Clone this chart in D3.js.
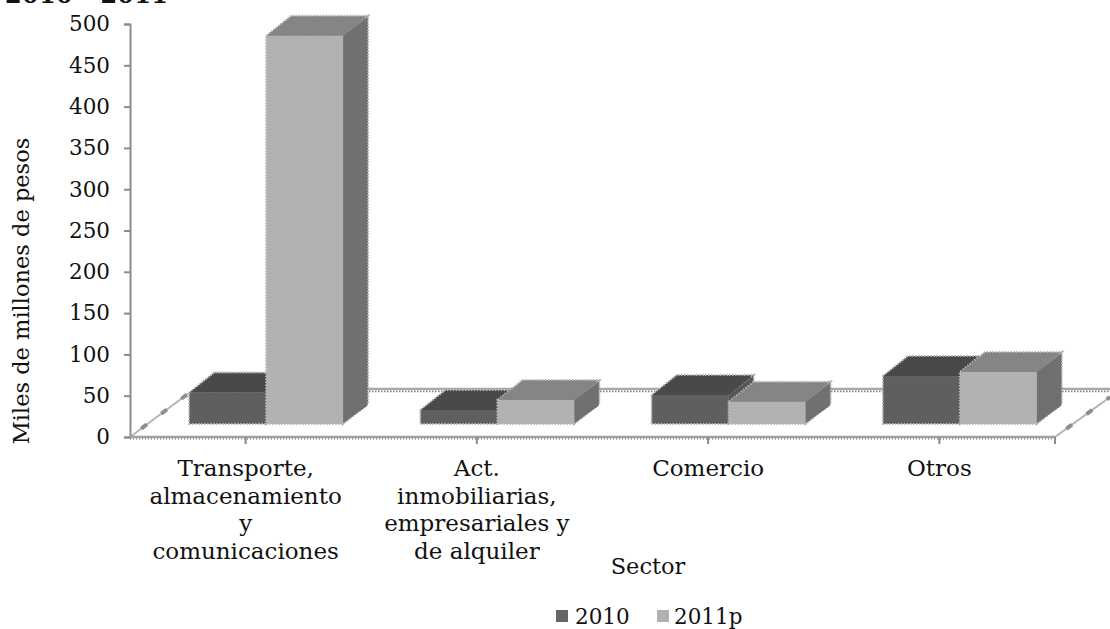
<!DOCTYPE html>
<html><head><meta charset="utf-8">
<script src="https://cdn.jsdelivr.net/npm/d3@7"></script>
<style>
html,body{margin:0;padding:0;background:#fff;overflow:hidden}
text{font-family:"DejaVu Serif",serif;fill:#111}
</style></head><body>
<svg id="c" width="1110" height="629"></svg>
<script>
const categories=[["Transporte,","almacenamiento","y","comunicaciones"],["Act.","inmobiliarias,","empresariales y","de alquiler"],["Comercio"],["Otros"]];
const categoryKeys=["Transporte","Act","Comercio","Otros"];
const seriesNames=["2010","2011p"];
const values2010=[38,17,35,58];
const values2011=[470,29,27,63];
const yTicks=[0,50,100,150,200,250,300,350,400,450,500];
const titleText="2010 - 2011";
const yTitle="Miles de millones de pesos";
const xTitle="Sector";

const svg=d3.select("#c");
const defs=svg.append("defs");
defs.append("filter").attr("id","soft").append("feGaussianBlur").attr("stdDeviation",0.45);
const x=d3.scaleBand().domain(categoryKeys).range([130,1055]);
const xSeries=d3.scaleBand().domain(seriesNames).range([0,154]);
const yAxisScale=d3.scaleLinear().domain([0,500]).range([437,24]);
const yBar=d3.scaleLinear().domain([0,500]).range([424,11]);
const depthX=25, depthY=-20, shift=20.5;
const styles={"2010":{front:"#5f5f5f",top:"#4a4a4a",side:"#555555",edge:"#b8b8b8"},
              "2011p":{front:"#b2b2b2",top:"#858585",side:"#707070",edge:"#b8b8b8"}};

svg.append("text").attr("x",5).attr("y",3).attr("font-size",24).attr("font-weight","bold").style("font-family","'DejaVu Serif',serif").attr("textLength",163).text(titleText);

// floor
const floor=svg.append("g").attr("fill","none").attr("filter","url(#soft)");
[[[345,389],[1110,389]]].forEach(s=>{
  floor.append("path").attr("d",d3.line()(s)).attr("stroke","#a8a8a8").attr("stroke-width",2.5);
  floor.append("path").attr("d",d3.line()(s.map(p=>[p[0],p[1]+2.5]))).attr("stroke","#808080").attr("stroke-width",1.5).attr("stroke-dasharray","1.5 1.5");
});
[[[130,437],[189,393]],[[1055,437],[1110,397]]].forEach(s=>{
  floor.append("path").attr("d",d3.line()(s)).attr("stroke","#b4b4b4").attr("stroke-width",2);
  floor.append("path").attr("d",d3.line()(s)).attr("stroke","#8e8e8e").attr("stroke-width",4).attr("stroke-dasharray","7 18").attr("stroke-dashoffset",-14);
});

// bars
const poly=(g,pts,fill,edge)=>{
  g.append("polygon").attr("points",pts.map(p=>p.join(",")).join(" ")).attr("fill",fill);
  if(edge) g.append("polygon").attr("points",pts.map(p=>p.join(",")).join(" ")).attr("fill","none").attr("stroke",edge).attr("stroke-width",2).attr("stroke-dasharray","1.5 1.5");
};
const barsG=svg.append("g").attr("filter","url(#soft)");
categoryKeys.forEach((k,i)=>{
  [values2010[i],values2011[i]].forEach((v,j)=>{
    const name=seriesNames[j], st=styles[name];
    const x0=x(k)+x.bandwidth()/2+shift-xSeries.range()[1]/2+xSeries(name);
    const x1=x0+xSeries.bandwidth();
    const y0=yBar(0), y1=yBar(v);
    const g=barsG.append("g");
    poly(g,[[x1,y0],[x1+depthX,y0+depthY],[x1+depthX,y1+depthY],[x1,y1]],st.side,st.edge);
    poly(g,[[x0,y1],[x1,y1],[x1+depthX,y1+depthY],[x0+depthX,y1+depthY]],st.top,st.edge);
    poly(g,[[x0,y0],[x1,y0],[x1,y1],[x0,y1]],st.front,st.edge);
    g.append("rect").attr("x",x0+1).attr("y",y1).attr("width",x1-x0-1).attr("height",y0-y1-1).attr("fill",st.front);
    g.append("polygon").attr("points",[[x0+1,y1],[x1,y1],[x1+depthX-2,y1+depthY+2],[x0+depthX,y1+depthY+2]].map(p=>p.join(",")).join(" ")).attr("fill",st.top);
    g.append("polygon").attr("points",[[x1,y0-1],[x1+depthX-1,y0+depthY+2],[x1+depthX-1,y1+depthY+2],[x1,y1]].map(p=>p.join(",")).join(" ")).attr("fill",st.side);
  });
});

// y axis
const yAxis=d3.axisLeft(yAxisScale).tickValues(yTicks).tickSize(6).tickPadding(14);
const gy=svg.append("g").attr("transform","translate(130,0)").call(yAxis);
gy.selectAll("path,line").attr("stroke","#8c8c8c").attr("stroke-width",2);
gy.selectAll("text").attr("font-size",21.5).style("font-family","'DejaVu Serif',serif").style("fill","#111");

// x axis
const gx=svg.append("g").attr("transform","translate(0,437)");
gx.append("line").attr("x1",x.range()[0]).attr("x2",x.range()[1]).attr("stroke","#a0a0a0").attr("stroke-width",2.5);
gx.append("line").attr("x1",x.range()[0]).attr("x2",x.range()[1]).attr("y1",2).attr("y2",2).attr("stroke","#8c8c8c").attr("stroke-width",1.5).attr("stroke-dasharray","1 2");
categoryKeys.forEach(k=>{
  const cx=x(k)+x.bandwidth()/2;
  gx.append("line").attr("x1",cx).attr("x2",cx).attr("y1",0).attr("y2",7).attr("stroke","#8c8c8c").attr("stroke-width",2);
});
gx.append("line").attr("x1",x.range()[1]).attr("x2",x.range()[1]).attr("y1",0).attr("y2",7).attr("stroke","#8c8c8c").attr("stroke-width",2);
categoryKeys.forEach((k,i)=>{
  const t=svg.append("text").attr("text-anchor","middle").attr("font-size",23);
  categories[i].forEach((line,n)=>t.append("tspan").attr("x",x(k)+x.bandwidth()/2).attr("y",476+n*27.5).text(line));
});

svg.append("text").attr("x",648).attr("y",574).attr("text-anchor","middle").attr("font-size",22.5).text(xTitle);
svg.append("text").attr("transform","translate(29,291) rotate(-90)").attr("text-anchor","middle").attr("font-size",22.5).text(yTitle);

// legend
const legendX={"2010":556,"2011p":657}, legendTextX={"2010":575,"2011p":674};
seriesNames.forEach(n=>{
  svg.append("rect").attr("x",legendX[n]).attr("y",610).attr("width",12).attr("height",12).attr("fill",n==="2010"?"#666666":styles[n].front);
  svg.append("text").attr("x",legendTextX[n]).attr("y",624).attr("font-size",21.5).text(n);
});
</script></body></html>
